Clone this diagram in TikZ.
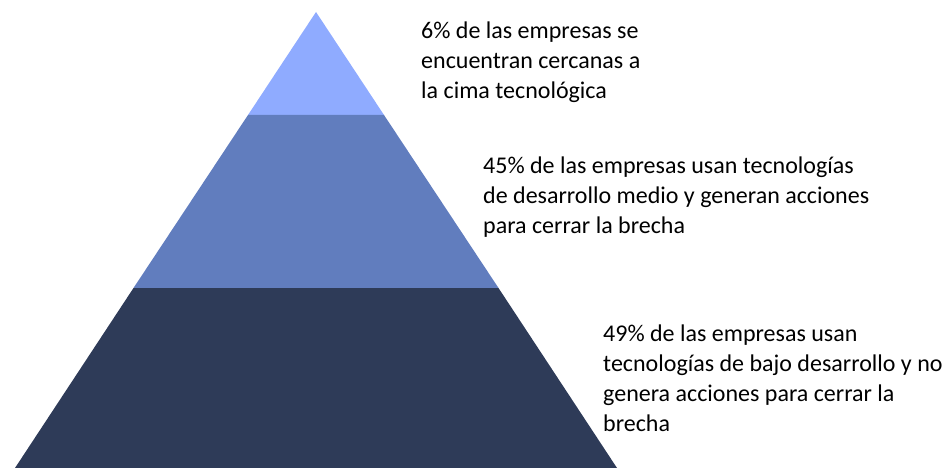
\documentclass[tikz,border=0pt]{standalone}
\usepackage{fontspec}
\setmainfont{Carlito}
\definecolor{topblue}{HTML}{8FABFF}
\definecolor{midblue}{HTML}{617DBE}
\definecolor{lowblue}{HTML}{2E3B58}
\begin{document}
\begin{tikzpicture}[x=1pt,y=-1pt,
  lbl/.style={anchor=north west,inner sep=0pt,align=left,text=black,
    font=\fontsize{24}{30}\selectfont}]
\useasboundingbox (0,0) rectangle (947,468);
% pyramid geometry: apex (316,12), half-width slope 0.66
\coordinate (apex) at (316,12);
\coordinate (t1l) at (248,115);
\coordinate (t1r) at (384,115);
\coordinate (t2l) at (133.5,288);
\coordinate (t2r) at (498.5,288);
\coordinate (bl) at (15,468);
\coordinate (br) at (617,468);
\fill[topblue] (apex) -- (t1r) -- (t1l) -- cycle;
\fill[midblue] (t1l) -- (t1r) -- (t2r) -- (t2l) -- cycle;
\fill[lowblue] (t2l) -- (t2r) -- (br) -- (bl) -- cycle;
\node[lbl] (a) at (421,22) {6\% de las empresas se\\encuentran cercanas a\\la cima tecnológica};
\node[lbl] (b) at (483,157) {45\% de las empresas usan tecnologías\\de desarrollo medio y generan acciones\\para cerrar la brecha};
\node[lbl] (c) at (603,325) {49\% de las empresas usan\\tecnologías de bajo desarrollo y no\\genera acciones para cerrar la\\brecha};
\end{tikzpicture}
\end{document}
